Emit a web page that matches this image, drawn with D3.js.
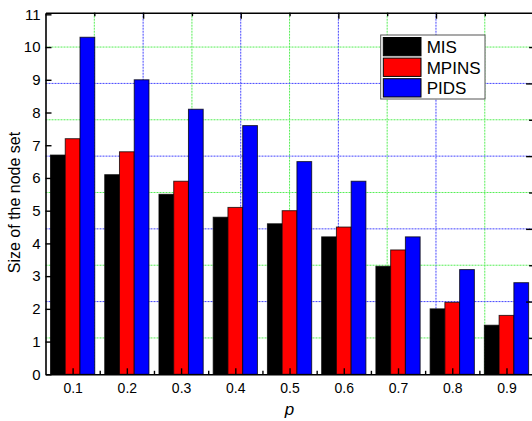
<!DOCTYPE html>
<html>
<head>
<meta charset="utf-8">
<script src="https://cdn.jsdelivr.net/npm/d3@7"></script>
<style>
  html, body { margin: 0; padding: 0; background: #fff; }
  svg { display: block; font-family: "Liberation Sans", Arial, sans-serif; }
</style>
</head>
<body>
<svg id="chart" width="532" height="421"></svg>
<script>
// Probability values on the x axis and their labels
const pValues = [0.1, 0.2, 0.3, 0.4, 0.5, 0.6, 0.7, 0.8, 0.9];
const pLabels = ["0.1", "0.2", "0.3", "0.4", "0.5", "0.6", "0.7", "0.8", "0.9"];

// Size of the node set for each method
const misValues   = [6.7, 6.1, 5.5, 4.8, 4.6, 4.2, 3.3, 2.0, 1.5];
const mpinsValues = [7.2, 6.8, 5.9, 5.1, 5.0, 4.5, 3.8, 2.2, 1.8];
const pidsValues  = [10.3, 9.0, 8.1, 7.6, 6.5, 5.9, 4.2, 3.2, 2.8];

const seriesNames = ["MIS", "MPINS", "PIDS"];
const seriesColors = ["#000000", "#ff0000", "#0000ff"];

// Axis ticks
const yTicks = [0, 1, 2, 3, 4, 5, 6, 7, 8, 9, 10, 11];
const xMinorTicks = [0.15, 0.25, 0.35, 0.45, 0.55, 0.65, 0.75, 0.85];

// Background grid (layer grid, alternating green / blue)
const gridX = [0.14, 0.23, 0.32, 0.41, 0.50, 0.59, 0.68, 0.77, 0.86];
const gridY = [1.111, 2.222, 3.333, 4.444, 5.556, 6.667, 7.778, 8.889, 10.0];

const svg = d3.select("#chart");

const plotLeft = 45.5, plotRight = 533.6, plotTop = 12.7, plotBottom = 374.3;

const x = d3.scaleLinear().domain([0.05, 0.95]).range([plotLeft, plotRight]);
const y = d3.scaleLinear().domain([0, 11.05]).range([plotBottom, plotTop]);

const barW = 0.0272; // bar width in x units

// Grid lines
const gridColor = (i) => (i % 2 === 0 ? "#55ee55" : "#4444ff");
const grid = svg.append("g");
grid.selectAll("line.gx").data(gridX).join("line")
  .attr("x1", d => x(d)).attr("x2", d => x(d))
  .attr("y1", plotTop).attr("y2", plotBottom)
  .attr("stroke", (d, i) => gridColor(i))
  .attr("stroke-width", 1)
  .attr("stroke-dasharray", "2,1");
grid.selectAll("line.gy").data(gridY).join("line")
  .attr("y1", d => y(d)).attr("y2", d => y(d))
  .attr("x1", plotLeft).attr("x2", plotRight)
  .attr("stroke", (d, i) => gridColor(i))
  .attr("stroke-width", 1)
  .attr("stroke-dasharray", "2,1");

// Bars
const series = [misValues, mpinsValues, pidsValues];
series.forEach((vals, s) => {
  svg.append("g").selectAll("rect").data(vals).join("rect")
    .attr("x", (d, i) => x(pValues[i] + (s - 1.5) * barW))
    .attr("width", x(barW) - x(0))
    .attr("y", d => y(d))
    .attr("height", d => y(0) - y(d))
    .attr("fill", seriesColors[s])
    .attr("stroke", "#000")
    .attr("stroke-opacity", 0.75)
    .attr("stroke-width", 1);
});

// Axes
function styleAxis(g, fontSize) {
  g.selectAll("path.domain").attr("stroke", "#000").attr("stroke-width", 1.6);
  g.selectAll(".tick line").attr("stroke", "#000").attr("stroke-width", 1.4);
  g.selectAll(".tick text").attr("font-size", fontSize).attr("fill", "#000")
    .attr("font-family", "'Liberation Sans', Arial, sans-serif");
}

const gLeft = svg.append("g").attr("transform", `translate(${plotLeft},0)`)
  .call(d3.axisLeft(y).tickValues(yTicks).tickFormat(d3.format("d"))
    .tickSizeInner(-6).tickSizeOuter(0).tickPadding(5));
styleAxis(gLeft, 15);

const gBottom = svg.append("g").attr("transform", `translate(0,${plotBottom})`)
  .call(d3.axisBottom(x).tickValues(pValues).tickFormat((d, i) => pLabels[i])
    .tickSizeInner(-6).tickSizeOuter(0).tickPadding(9));
styleAxis(gBottom, 14);

const gBottomMinor = svg.append("g").attr("transform", `translate(0,${plotBottom})`)
  .call(d3.axisBottom(x).tickValues(xMinorTicks).tickFormat("")
    .tickSizeInner(-3.5).tickSizeOuter(0));
styleAxis(gBottomMinor, 14);
gBottomMinor.select("path.domain").remove();

// Grid-aligned ticks on the top and right frame: blue lines major, green minor
const gridXMajor = gridX.filter((d, i) => i % 2 === 1);
const gridXMinor = gridX.filter((d, i) => i % 2 === 0);
const gridYMajor = gridY.filter((d, i) => i % 2 === 1);
const gridYMinor = gridY.filter((d, i) => i % 2 === 0);

const gTop = svg.append("g").attr("transform", `translate(0,${plotTop})`)
  .call(d3.axisTop(x).tickValues(gridXMajor).tickFormat("")
    .tickSizeInner(-6).tickSizeOuter(0));
styleAxis(gTop, 14);
const gTopMinor = svg.append("g").attr("transform", `translate(0,${plotTop})`)
  .call(d3.axisTop(x).tickValues(gridXMinor).tickFormat("")
    .tickSizeInner(-3.5).tickSizeOuter(0));
styleAxis(gTopMinor, 14);
gTopMinor.select("path.domain").remove();

const gRight = svg.append("g").attr("transform", `translate(${plotRight},0)`)
  .call(d3.axisRight(y).tickValues(gridYMajor).tickFormat("")
    .tickSizeInner(-7.5).tickSizeOuter(0));
styleAxis(gRight, 14);
const gRightMinor = svg.append("g").attr("transform", `translate(${plotRight},0)`)
  .call(d3.axisRight(y).tickValues(gridYMinor).tickFormat("")
    .tickSizeInner(-4.5).tickSizeOuter(0));
styleAxis(gRightMinor, 14);
gRightMinor.select("path.domain").remove();

// Axis titles
svg.append("text")
  .attr("transform", `translate(19.5,${(plotTop + plotBottom) / 2 + 9}) rotate(-90)`)
  .attr("text-anchor", "middle")
  .attr("font-size", 16)
  .text("Size of the node set");

svg.append("text")
  .attr("x", (plotLeft + plotRight) / 2)
  .attr("y", 415)
  .attr("text-anchor", "middle")
  .attr("font-size", 17)
  .attr("font-style", "italic")
  .text("p");

// Legend
const legend = svg.append("g").attr("transform", "translate(380.7,35)");
legend.append("rect")
  .attr("width", 104.3).attr("height", 64)
  .attr("fill", "#fff").attr("stroke", "#555").attr("stroke-width", 1);
seriesNames.forEach((name, i) => {
  const row = legend.append("g").attr("transform", `translate(0,${2.5 + i * 20.6})`);
  row.append("rect")
    .attr("x", 2.6).attr("width", 37.7).attr("height", 18.3)
    .attr("fill", seriesColors[i]).attr("stroke", "#000").attr("stroke-width", 1);
  row.append("text")
    .attr("x", 46).attr("y", 15.6)
    .attr("font-size", 17)
    .text(name);
});
</script>
</body>
</html>
